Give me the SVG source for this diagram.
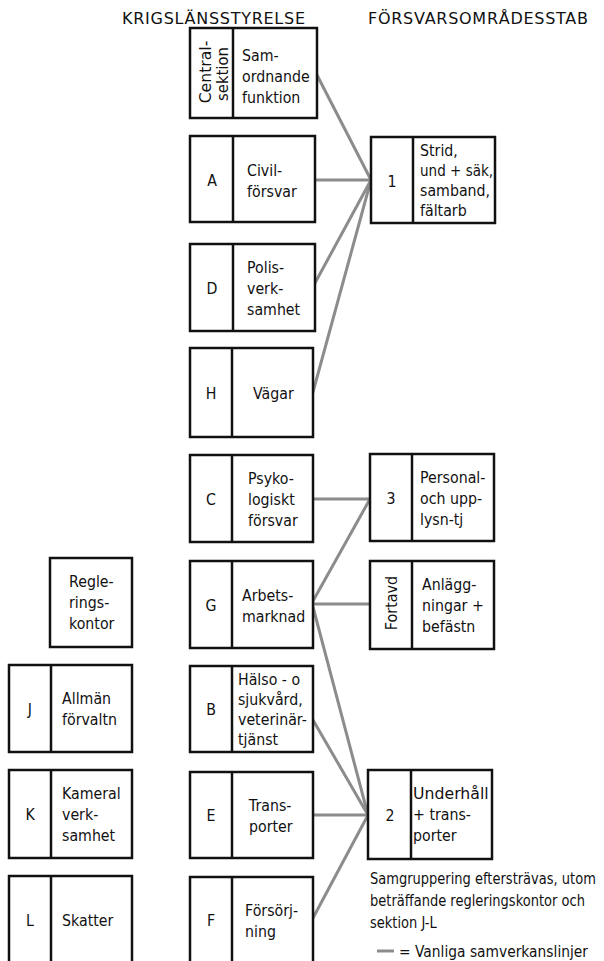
<svg xmlns="http://www.w3.org/2000/svg" width="604" height="961" viewBox="0 0 604 961">
<style>
text{font-family:"DejaVu Sans","Liberation Sans",sans-serif;font-size:16.5px;fill:#111}
.t{transform-box:fill-box;transform-origin:0 50%;transform:scaleX(.86)}
.t.c{transform-origin:50% 50%}
.n{transform-box:fill-box;transform-origin:0 50%;transform:scaleX(.79)}
.box{fill:#fff;stroke:#111;stroke-width:2.5}
.div{stroke:#111;stroke-width:2.5}
.c{text-anchor:middle}
.con line{stroke:#8c8c8c;stroke-width:3;stroke-linecap:round}
.hd{font-size:16px}
</style>
<rect width="604" height="961" fill="#fff"/>
<text class="hd" x="122" y="24" textLength="183" lengthAdjust="spacing">KRIGSLÄNSSTYRELSE</text>
<text class="hd" x="368" y="24" textLength="220" lengthAdjust="spacing">FÖRSVARSOMRÅDESSTAB</text>

<g class="con">
<line x1="317" y1="75" x2="371" y2="180"/>
<line x1="315" y1="180" x2="371" y2="180"/>
<line x1="315" y1="283" x2="371" y2="180"/>
<line x1="313" y1="392" x2="371" y2="180"/>
<line x1="313" y1="499" x2="370" y2="499"/>
<line x1="313" y1="601" x2="370" y2="499"/>
<line x1="313" y1="604" x2="370" y2="604"/>
<line x1="313" y1="607" x2="368" y2="815"/>
<line x1="313" y1="720" x2="368" y2="815"/>
<line x1="313" y1="815" x2="368" y2="815"/>
<line x1="313" y1="918" x2="368" y2="815"/>
</g>

<g id="central">
<rect class="box" x="190" y="28" width="127" height="90"/>
<line class="div" x1="233" y1="28" x2="233" y2="118"/>
<text class="c" transform="translate(211,72) rotate(-90) scale(0.95,1)" style="font-size:16.5px">Central-</text>
<text class="c" transform="translate(228,74) rotate(-90) scale(0.9,1)" style="font-size:16.5px">sektion</text>
<text class="t" x="242" y="61">Sam-</text>
<text class="t" x="242" y="82">ordnande</text>
<text class="t" x="242" y="103">funktion</text>
</g>

<g id="A">
<rect class="box" x="190" y="136" width="125" height="86"/>
<line class="div" x1="233" y1="136" x2="233" y2="222"/>
<text class="t c" x="212" y="186">A</text>
<text class="t" x="247" y="176">Civil-</text>
<text class="t" x="247" y="197">försvar</text>
</g>

<g id="D">
<rect class="box" x="190" y="244" width="125" height="87"/>
<line class="div" x1="233" y1="244" x2="233" y2="331"/>
<text class="t c" x="212" y="294">D</text>
<text class="t" x="247" y="273">Polis-</text>
<text class="t" x="247" y="294">verk-</text>
<text class="t" x="247" y="315">samhet</text>
</g>

<g id="H">
<rect class="box" x="190" y="348" width="123" height="89"/>
<line class="div" x1="232" y1="348" x2="232" y2="437"/>
<text class="t c" x="211" y="399">H</text>
<text class="t" x="253" y="399">Vägar</text>
</g>

<g id="C">
<rect class="box" x="190" y="455" width="123" height="87"/>
<line class="div" x1="232" y1="455" x2="232" y2="542"/>
<text class="t c" x="211" y="505">C</text>
<text class="t" x="248" y="484">Psyko-</text>
<text class="t" x="248" y="505">logiskt</text>
<text class="t" x="248" y="526">försvar</text>
</g>

<g id="G">
<rect class="box" x="190" y="561" width="123" height="87"/>
<line class="div" x1="232" y1="561" x2="232" y2="648"/>
<text class="t c" x="211" y="611">G</text>
<text class="t" x="242" y="601">Arbets-</text>
<text class="t" x="242" y="622">marknad</text>
</g>

<g id="B">
<rect class="box" x="190" y="666" width="123" height="86"/>
<line class="div" x1="232" y1="666" x2="232" y2="752"/>
<text class="t c" x="211" y="715">B</text>
<text class="t" x="238" y="685">Hälso -  o</text>
<text class="t" x="238" y="705">sjukvård,</text>
<text class="t" x="238" y="725">veterinär-</text>
<text class="t" x="238" y="745">tjänst</text>
</g>

<g id="E">
<rect class="box" x="190" y="772" width="123" height="86"/>
<line class="div" x1="232" y1="772" x2="232" y2="858"/>
<text class="t c" x="211" y="821">E</text>
<text class="t" x="249" y="811">Trans-</text>
<text class="t" x="249" y="832">porter</text>
</g>

<g id="F">
<rect class="box" x="190" y="877" width="123" height="95"/>
<line class="div" x1="232" y1="877" x2="232" y2="972"/>
<text class="t c" x="211" y="926">F</text>
<text class="t" x="245" y="916">Försörj-</text>
<text class="t" x="245" y="937">ning</text>
</g>

<g id="s1">
<rect class="box" x="371" y="137" width="124" height="86"/>
<line class="div" x1="413" y1="137" x2="413" y2="223"/>
<text class="t c" x="392" y="187">1</text>
<text class="t" x="420" y="156">Strid,</text>
<text class="t" x="420" y="176" textLength="85" lengthAdjust="spacingAndGlyphs">und + säk,</text>
<text class="t" x="420" y="196">samband,</text>
<text class="t" x="420" y="216">fältarb</text>
</g>

<g id="s3">
<rect class="box" x="370" y="454" width="124" height="87"/>
<line class="div" x1="412" y1="454" x2="412" y2="541"/>
<text class="t c" x="391" y="504">3</text>
<text class="t" x="420" y="483">Personal-</text>
<text class="t" x="420" y="504">och upp-</text>
<text class="t" x="420" y="525">lysn-tj</text>
</g>

<g id="fortavd">
<rect class="box" x="370" y="561" width="124" height="88"/>
<line class="div" x1="412" y1="561" x2="412" y2="649"/>
<text class="c" transform="translate(397,603) rotate(-90) scale(0.87,1)">Fortavd</text>
<text class="t" x="422" y="590">Anlägg-</text>
<text class="t" x="422" y="611">ningar +</text>
<text class="t" x="422" y="632">befästn</text>
</g>

<g id="s2">
<rect class="box" x="368" y="770" width="124" height="89"/>
<line class="div" x1="411" y1="770" x2="411" y2="859"/>
<text class="t c" x="390" y="821">2</text>
<text class="t" x="413" y="799" textLength="88" lengthAdjust="spacingAndGlyphs">Underhåll</text>
<text class="t" x="413" y="820">+ trans-</text>
<text class="t" x="413" y="841">porter</text>
</g>

<g id="regl">
<rect class="box" x="50" y="558" width="82" height="89"/>
<text class="t" x="69" y="587">Regle-</text>
<text class="t" x="69" y="608">rings-</text>
<text class="t" x="69" y="629">kontor</text>
</g>

<g id="J">
<rect class="box" x="9" y="665" width="123" height="87"/>
<line class="div" x1="51" y1="665" x2="51" y2="752"/>
<text class="t c" x="30" y="715">J</text>
<text class="t" x="62" y="704">Allmän</text>
<text class="t" x="62" y="725">förvaltn</text>
</g>

<g id="K">
<rect class="box" x="9" y="770" width="123" height="88"/>
<line class="div" x1="51" y1="770" x2="51" y2="858"/>
<text class="t c" x="30" y="820">K</text>
<text class="t" x="62" y="799">Kameral</text>
<text class="t" x="62" y="820">verk-</text>
<text class="t" x="62" y="841">samhet</text>
</g>

<g id="L">
<rect class="box" x="9" y="876" width="123" height="96"/>
<line class="div" x1="51" y1="876" x2="51" y2="972"/>
<text class="t c" x="30" y="926">L</text>
<text class="t" x="62" y="926">Skatter</text>
</g>

<g id="note">
<text class="n" x="370" y="884">Samgruppering eftersträvas, utom</text>
<text class="n" x="370" y="906">beträffande regleringskontor och</text>
<text class="n" x="370" y="928">sektion J-L</text>
</g>
<g id="legend">
<line x1="377" y1="951" x2="394" y2="951" stroke="#8c8c8c" stroke-width="3"/>
<text x="399" y="957" style="font-size:15px" textLength="189" lengthAdjust="spacingAndGlyphs">= Vanliga samverkanslinjer</text>
</g>
</svg>
